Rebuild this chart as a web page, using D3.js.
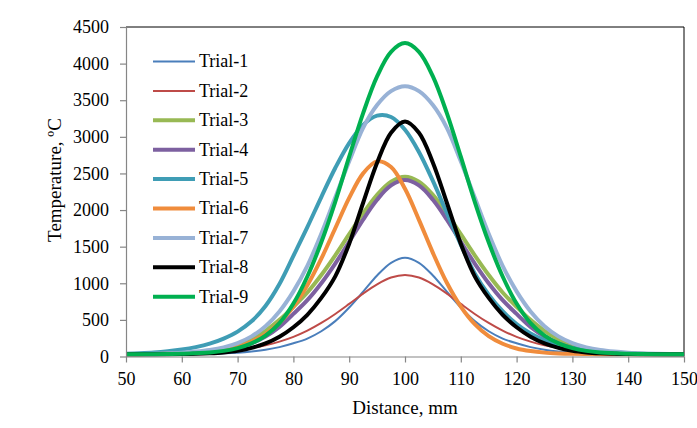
<!DOCTYPE html>
<html>
<head>
<meta charset="utf-8">
<script src="https://cdn.jsdelivr.net/npm/d3@7/dist/d3.min.js"></script>
<style>
  body { margin: 0; background: #fff; }
  svg text { font-family: "Liberation Serif", "Times New Roman", serif; fill: #000; }
</style>
</head>
<body>
<div class="chart"></div>
<script>
// distance along the weld line, mm
const distance = [50, 52.5, 55, 57.5, 60, 62.5, 65, 67.5, 70, 72.5, 75, 77.5, 80, 82.5, 85, 87.5, 90, 92.5, 95, 97.5,
  100, 102.5, 105, 107.5, 110, 112.5, 115, 117.5, 120, 122.5, 125, 127.5, 130, 132.5, 135, 137.5, 140, 142.5, 145, 147.5, 150];

// temperature readings per trial, degC
const trial1 = [30, 30, 30, 31, 32, 34, 38, 43, 52, 68, 92, 128, 180, 245, 345, 483, 669, 885, 1106, 1280,
  1350, 1280, 1106, 885, 669, 483, 345, 245, 180, 128, 92, 68, 52, 43, 38, 34, 32, 31, 30, 30, 30];
const trial2 = [33, 34, 36, 39, 43, 50, 59, 73, 91, 117, 153, 203, 268, 353, 458, 581, 718, 859, 985, 1078,
  1113, 1078, 985, 859, 718, 581, 458, 353, 268, 203, 153, 117, 91, 73, 59, 50, 43, 39, 36, 34, 33];
const trial3 = [30, 31, 33, 37, 44, 55, 72, 100, 150, 235, 350, 500, 678, 874, 1112, 1381, 1670, 1957, 2209, 2388,
  2456, 2388, 2209, 1957, 1670, 1381, 1112, 874, 678, 500, 350, 235, 150, 100, 72, 55, 44, 37, 33, 31, 30];
const trial4 = [30, 30, 31, 33, 37, 45, 57, 80, 118, 180, 273, 404, 582, 770, 1001, 1270, 1567, 1870, 2141, 2336,
  2410, 2336, 2141, 1870, 1567, 1270, 1001, 770, 582, 404, 273, 180, 118, 80, 57, 45, 37, 33, 31, 30, 30];
const trial5 = [36, 44, 55, 72, 95, 128, 175, 245, 340, 480, 690, 990, 1374, 1766, 2178, 2574, 2915, 3163, 3289, 3271,
  3097, 2794, 2398, 1960, 1528, 1135, 845, 618, 443, 315, 224, 160, 115, 85, 64, 50, 42, 37, 34, 32, 31];
const trial6 = [30, 32, 34, 37, 42, 51, 66, 91, 132, 202, 305, 461, 680, 972, 1336, 1751, 2166, 2501, 2665, 2587,
  2290, 1866, 1416, 1007, 682, 442, 278, 174, 110, 74, 53, 42, 36, 33, 31, 30, 30, 30, 30, 30, 30];
const trial7 = [31, 33, 37, 42, 52, 67, 89, 125, 184, 275, 414, 616, 890, 1238, 1677, 2171, 2665, 3123, 3434, 3624,
  3690, 3624, 3434, 3123, 2665, 2171, 1677, 1238, 890, 616, 414, 275, 184, 125, 89, 67, 52, 42, 37, 33, 31];
const trial8 = [30, 30, 30, 31, 33, 37, 44, 56, 78, 118, 178, 270, 400, 570, 800, 1095, 1541, 2100, 2647, 3057,
  3210, 3057, 2647, 2100, 1541, 1095, 800, 570, 400, 270, 178, 118, 78, 56, 44, 37, 33, 31, 30, 30, 30];
const trial9 = [30, 30, 31, 33, 36, 45, 56, 77, 115, 179, 285, 455, 723, 1093, 1560, 2113, 2729, 3324, 3825, 4161,
  4280, 4161, 3825, 3324, 2729, 2113, 1560, 1093, 723, 455, 285, 179, 115, 77, 56, 45, 36, 33, 31, 30, 30];

const names = ['Trial-1', 'Trial-2', 'Trial-3', 'Trial-4', 'Trial-5', 'Trial-6', 'Trial-7', 'Trial-8', 'Trial-9'];
const values = [trial1, trial2, trial3, trial4, trial5, trial6, trial7, trial8, trial9];
const colors = ['#4a7ebb', '#be4b48', '#98b954', '#7d60a0', '#3f9db5', '#f08c3c', '#98b2d6', '#000000', '#00b050'];
const widths = [2, 2, 4, 4, 4, 4, 4, 4, 4];

const xTicks = [50, 60, 70, 80, 90, 100, 110, 120, 130, 140, 150];
const yTicks = [0, 500, 1000, 1500, 2000, 2500, 3000, 3500, 4000, 4500];

const svg = d3.select('.chart').append('svg')
  .attr('width', 697).attr('height', 428);

const margin = { top: 27, right: 13, bottom: 71.5, left: 126 },
  width = 697 - margin.left - margin.right,
  height = 428 - margin.top - margin.bottom;

const x = d3.scaleLinear().domain([50, 150]).range([0, width]);
const y = d3.scaleLinear().domain([0, 4500]).range([height, 0]);

const g = svg.append('g')
  .attr('transform', 'translate(' + margin.left + ',' + margin.top + ')');

// plot area frame (top/right black)
g.append('path')
  .attr('d', 'M0,0H' + width + 'V' + height)
  .attr('fill', 'none').attr('stroke', '#000').attr('stroke-width', 1);

const line = d3.line()
  .x(function(d, i) { return x(distance[i]); })
  .y(function(d) { return y(d); })
  .curve(d3.curveCatmullRom.alpha(0.5));

g.selectAll('.series')
  .data(values)
  .enter().append('path')
  .attr('class', 'series')
  .attr('fill', 'none')
  .attr('stroke', function(d, i) { return colors[i]; })
  .attr('stroke-width', function(d, i) { return widths[i]; })
  .attr('stroke-linejoin', 'round')
  .attr('d', line);

const xAxis = g.append('g')
  .attr('transform', 'translate(0,' + height + ')')
  .call(d3.axisBottom(x).tickValues(xTicks).tickSizeInner(6).tickSizeOuter(0).tickPadding(10));

const yAxis = g.append('g')
  .call(d3.axisLeft(y).tickValues(yTicks).tickFormat(d3.format('d')).tickSizeInner(6).tickSizeOuter(0).tickPadding(11));

[xAxis, yAxis].forEach(function(a) {
  a.select('.domain').attr('stroke', '#868686').attr('stroke-width', 1.2);
  a.selectAll('.tick line').attr('stroke', '#868686').attr('stroke-width', 1.2);
  a.selectAll('.tick text').style('font-size', '18px').attr('fill', '#000');
});

// axis titles
svg.append('text')
  .attr('x', 405).attr('y', 414)
  .attr('text-anchor', 'middle')
  .style('font-size', '19px')
  .text('Distance, mm');

svg.append('text')
  .attr('transform', 'translate(61,180) rotate(-90)')
  .attr('text-anchor', 'middle')
  .style('font-size', '19px')
  .text('Temperature, ºC');

// legend
const legend = svg.append('g').attr('transform', 'translate(153,61.5)');
const item = legend.selectAll('.item')
  .data(names)
  .enter().append('g')
  .attr('class', 'item')
  .attr('transform', function(d, i) { return 'translate(0,' + (i * 29.4) + ')'; });

item.append('line')
  .attr('x1', 0).attr('x2', 42)
  .attr('stroke', function(d, i) { return colors[i]; })
  .attr('stroke-width', function(d, i) { return widths[i]; });

item.append('text')
  .attr('x', 46).attr('dy', '0.33em')
  .style('font-size', '18px')
  .text(function(d) { return d; });
</script>
</body>
</html>
